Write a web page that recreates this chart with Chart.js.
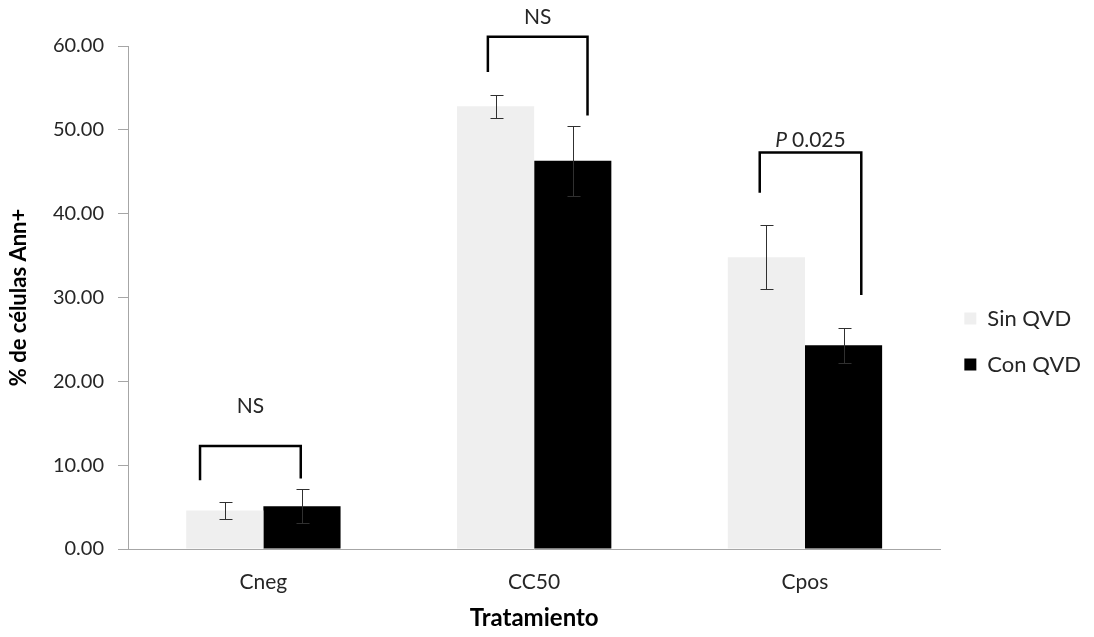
<!DOCTYPE html>
<html>
<head>
<meta charset="utf-8">
<script src="https://cdn.jsdelivr.net/npm/chart.js@4/dist/chart.umd.min.js"></script>
<style>
  html, body { margin: 0; padding: 0; background: #fff; }
  #wrap { width: 1094px; height: 637px; }
</style>
</head>
<body>
<div id="wrap"><canvas id="grafico"></canvas></div>
<script>
const tratamientos = ['Cneg', 'CC50', 'Cpos'];
const sinQVD = [4.6, 52.8, 34.8];
const sinQVDerr = [1.0, 1.35, 3.8];
const conQVD = [5.1, 46.3, 24.3];
const conQVDerr = [2.0, 4.2, 2.1];
const ticksY = [0, 10, 20, 30, 40, 50, 60];

/* corchetes de significancia (x en fraccion de categoria, y en % ) */
const corCat = [0, 1, 2];
const corX0 = [-0.234, -0.171, -0.167];
const corX1 = [0.138, 0.197, 0.208];
const corTop = [12.3, 61.1, 47.3];
const corPataIzq = [8.2, 56.9, 42.5];
const corPataDer = [8.4, 51.7, 30.3];
const corTextoY = [17.0, 63.4, 48.8];
const corTexto = ['NS', 'NS', '0.025'];
const corP = [false, false, true];

Chart.defaults.font.family = 'Lato';
Chart.defaults.color = '#262626';

const errorBars = {
  id: 'errorBars',
  afterDatasetsDraw(chart) {
    const ctx = chart.ctx;
    const y = chart.scales.y;
    const errs = [sinQVDerr, conQVDerr];
    ctx.save();
    ctx.strokeStyle = '#303030';
    ctx.lineWidth = 1;
    chart.data.datasets.forEach((ds, i) => {
      chart.getDatasetMeta(i).data.forEach((bar, j) => {
        const x = Math.round(bar.x) + 0.5;
        const top = Math.round(y.getPixelForValue(ds.data[j] + errs[i][j])) + 0.5;
        const bot = Math.round(y.getPixelForValue(ds.data[j] - errs[i][j])) + 0.5;
        ctx.beginPath();
        ctx.moveTo(x, top); ctx.lineTo(x, bot);
        ctx.moveTo(x - 6, top); ctx.lineTo(x + 7, top);
        ctx.moveTo(x - 6, bot); ctx.lineTo(x + 7, bot);
        ctx.stroke();
      });
    });
    ctx.restore();
  }
};

const corchetes = {
  id: 'corchetes',
  afterDraw(chart) {
    const ctx = chart.ctx;
    const xs = chart.scales.x, ys = chart.scales.y;
    const w = xs.getPixelForValue(1) - xs.getPixelForValue(0);
    ctx.save();
    ctx.strokeStyle = '#000';
    ctx.lineWidth = 2.5;
    corCat.forEach((c, i) => {
      const cx = xs.getPixelForValue(c);
      const x0 = cx + corX0[i] * w, x1 = cx + corX1[i] * w;
      const top = ys.getPixelForValue(corTop[i]);
      ctx.beginPath();
      ctx.moveTo(x0, ys.getPixelForValue(corPataIzq[i]));
      ctx.lineTo(x0, top);
      ctx.lineTo(x1, top);
      ctx.lineTo(x1, ys.getPixelForValue(corPataDer[i]));
      ctx.stroke();

      const ty = ys.getPixelForValue(corTextoY[i]);
      const mid = (x0 + x1) / 2;
      ctx.fillStyle = '#262626';
      ctx.textBaseline = 'middle';
      if (corP[i]) {
        ctx.font = 'italic 21px Lato';
        const pw = ctx.measureText('P ').width;
        ctx.font = '21px Lato';
        const tw = ctx.measureText(corTexto[i]).width;
        const start = mid - (pw + tw) / 2;
        ctx.textAlign = 'left';
        ctx.font = 'italic 21px Lato';
        ctx.fillText('P', start, ty);
        ctx.font = '21px Lato';
        ctx.fillText(corTexto[i], start + pw, ty);
      } else {
        ctx.font = '21px Lato';
        ctx.textAlign = 'center';
        ctx.fillText(corTexto[i], mid, ty);
      }
    });
    ctx.restore();
  }
};

const data = {
  labels: tratamientos,
  datasets: [{
    label: 'Sin QVD',
    data: sinQVD,
    backgroundColor: '#efefef',
    borderWidth: 0
  }, {
    label: 'Con QVD',
    data: conQVD,
    backgroundColor: '#000000',
    borderWidth: 0
  }]
};

const config = {
  type: 'bar',
  data: data,
  options: {
    responsive: true,
    maintainAspectRatio: false,
    animation: false,
    categoryPercentage: 0.57,
    barPercentage: 1.0,
    layout: {
      padding: { top: 46, right: 3, bottom: 0, left: 0 }
    },
    plugins: {
      legend: {
        position: 'right',
        labels: {
          boxWidth: 12,
          boxHeight: 12,
          padding: 24,
          color: '#262626',
          font: { size: 22 }
        }
      },
      tooltip: { enabled: false }
    },
    scales: {
      x: {
        grid: { display: false, drawTicks: false },
        border: { display: true, color: '#a6a6a6' },
        ticks: { padding: 21, color: '#262626', font: { size: 21 } },
        title: {
          display: true,
          text: 'Tratamiento',
          color: '#000',
          font: { size: 24, weight: 'bold' },
          padding: { top: 13 }
        },
        afterFit: (s) => { s.height = 88; }
      },
      y: {
        min: 0,
        max: 60,
        afterBuildTicks: (s) => { s.ticks = ticksY.map(v => ({ value: v })); },
        ticks: {
          padding: 14,
          color: '#262626',
          font: { size: 20 },
          callback: (v) => Number(v).toFixed(2)
        },
        grid: {
          display: true,
          drawOnChartArea: false,
          drawTicks: true,
          tickLength: 10,
          color: '#a6a6a6'
        },
        border: { color: '#a6a6a6' },
        title: {
          display: true,
          text: '% de células Ann+',
          color: '#000',
          font: { size: 22, weight: 'bold' },
          padding: { top: 6 }
        },
        afterFit: (s) => { s.width = 128; }
      }
    }
  },
  plugins: [errorBars, corchetes]
};

const grafico = new Chart(document.getElementById('grafico'), config);
</script>
</body>
</html>
